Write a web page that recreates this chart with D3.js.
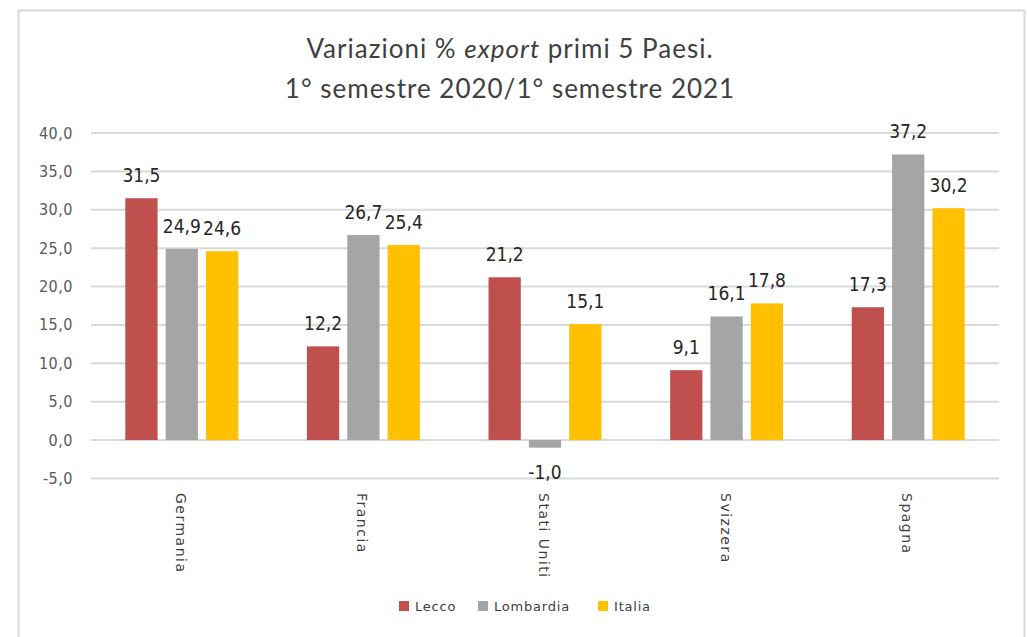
<!DOCTYPE html>
<html>
<head>
<meta charset="utf-8">
<script src="https://cdn.jsdelivr.net/npm/d3@7"></script>
<style>
  body { margin: 0; background: #fff; }
  svg { display: block; }
</style>
</head>
<body>
<script>
// Data
const categories = ['Germania', 'Francia', 'Stati Uniti', 'Svizzera', 'Spagna'];
const seriesNames = ['Lecco', 'Lombardia', 'Italia'];
const lecco = [31.5, 12.2, 21.2, 9.1, 17.3];
const lombardia = [24.9, 26.7, -1.0, 16.1, 37.2];
const italia = [24.6, 25.4, 15.1, 17.8, 30.2];
const yTicks = [-5, 0, 5, 10, 15, 20, 25, 30, 35, 40];

// Constants
const width = 1027;
const height = 637;
const colors = ['#C0504D', '#A5A5A5', '#FFC000'];
const seriesValues = [lecco, lombardia, italia];

// Italian number format, plain hyphen for negatives
const locale = d3.formatLocale({ decimal: ',', thousands: '.', grouping: [3], currency: ['', '€'], minus: '-' });
const fmt = locale.format('.1f');

const svg = d3.select('body')
    .append('svg')
    .attr('width', width)
    .attr('height', height);

// Chart border
svg.append('rect')
    .attr('x', 18.5)
    .attr('y', 10.5)
    .attr('width', 1006)
    .attr('height', 640)
    .attr('fill', '#fff')
    .attr('stroke', '#D9D9D9')
    .attr('stroke-width', 2);

// Title
const title = svg.append('text')
    .attr('text-anchor', 'middle')
    .attr('font-family', 'Lato, "Open Sans", sans-serif')
    .attr('font-size', 26)
    .attr('letter-spacing', 1)
    .attr('fill', '#404040');
const t1 = title.append('tspan').attr('x', 510).attr('y', 58);
t1.append('tspan').text('Variazioni % ');
t1.append('tspan').attr('font-style', 'italic').text('export');
t1.append('tspan').text(' primi 5 Paesi.');
title.append('tspan').attr('x', 510).attr('y', 98).text('1° semestre 2020/1° semestre 2021');

// Scales
const x0 = d3.scaleBand()
    .domain(categories)
    .range([91, 999])
    .paddingInner(0.378)
    .paddingOuter(0.189);

const x1 = d3.scaleBand()
    .domain(seriesNames)
    .range([0, x0.bandwidth()])
    .paddingInner(0.2);

const y = d3.scaleLinear()
    .domain([-5, 40])
    .range([478.4, 133]);

// Grid lines
svg.append('g')
    .selectAll('line')
    .data(yTicks)
    .join('line')
    .attr('x1', 91)
    .attr('x2', 999)
    .attr('y1', d => y(d))
    .attr('y2', d => y(d))
    .attr('stroke', '#D9D9D9')
    .attr('stroke-width', 2);

// Y axis labels
svg.append('g')
    .selectAll('text')
    .data(yTicks)
    .join('text')
    .attr('x', 73)
    .attr('y', d => y(d) + 5.5)
    .attr('text-anchor', 'end')
    .attr('font-family', '"DejaVu Sans Condensed", "DejaVu Sans", sans-serif')
    .attr('font-size', 16)
    .attr('letter-spacing', 0.5)
    .attr('fill', '#595959')
    .text(d => fmt(d));

// Bars
const rows = categories.map((c, i) => ({ category: c, values: seriesNames.map((s, j) => ({ series: s, value: seriesValues[j][i], color: colors[j] })) }));

const group = svg.append('g')
    .selectAll('g')
    .data(rows)
    .join('g')
    .attr('transform', d => `translate(${x0(d.category)},0)`);

group.selectAll('rect')
    .data(d => d.values)
    .join('rect')
    .attr('x', d => x1(d.series))
    .attr('y', d => y(Math.max(0, d.value)))
    .attr('width', x1.bandwidth())
    .attr('height', d => Math.abs(y(d.value) - y(0)))
    .attr('fill', d => d.color);

// Data labels
group.selectAll('text')
    .data(d => d.values)
    .join('text')
    .attr('x', d => x1(d.series) + x1.bandwidth() / 2)
    .attr('y', d => d.value >= 0 ? y(d.value) - 16 : y(d.value) + 31)
    .attr('text-anchor', 'middle')
    .attr('font-family', '"DejaVu Sans Condensed", "DejaVu Sans", sans-serif')
    .attr('font-size', 19)
    .attr('fill', '#262626')
    .text(d => fmt(d.value));

// Category labels (rotated)
svg.append('g')
    .selectAll('text')
    .data(categories)
    .join('text')
    .attr('transform', d => `translate(${x0(d) + x0.bandwidth() / 2 - 6},493) rotate(90)`)
    .attr('font-family', '"DejaVu Sans", sans-serif')
    .attr('font-size', 14)
    .attr('letter-spacing', 1.5)
    .attr('fill', '#404040')
    .text(d => d);

// Legend
const legendX = [399, 478, 598];
const legend = svg.append('g')
    .selectAll('g')
    .data(seriesNames)
    .join('g')
    .attr('transform', (d, i) => `translate(${legendX[i]},601)`);

legend.append('rect')
    .attr('width', 10)
    .attr('height', 10)
    .attr('fill', (d, i) => colors[i]);

legend.append('text')
    .attr('x', 16)
    .attr('y', 10)
    .attr('font-family', '"DejaVu Sans", sans-serif')
    .attr('font-size', 13)
    .attr('letter-spacing', 0.8)
    .attr('fill', '#404040')
    .text(d => d);
</script>
</body>
</html>
